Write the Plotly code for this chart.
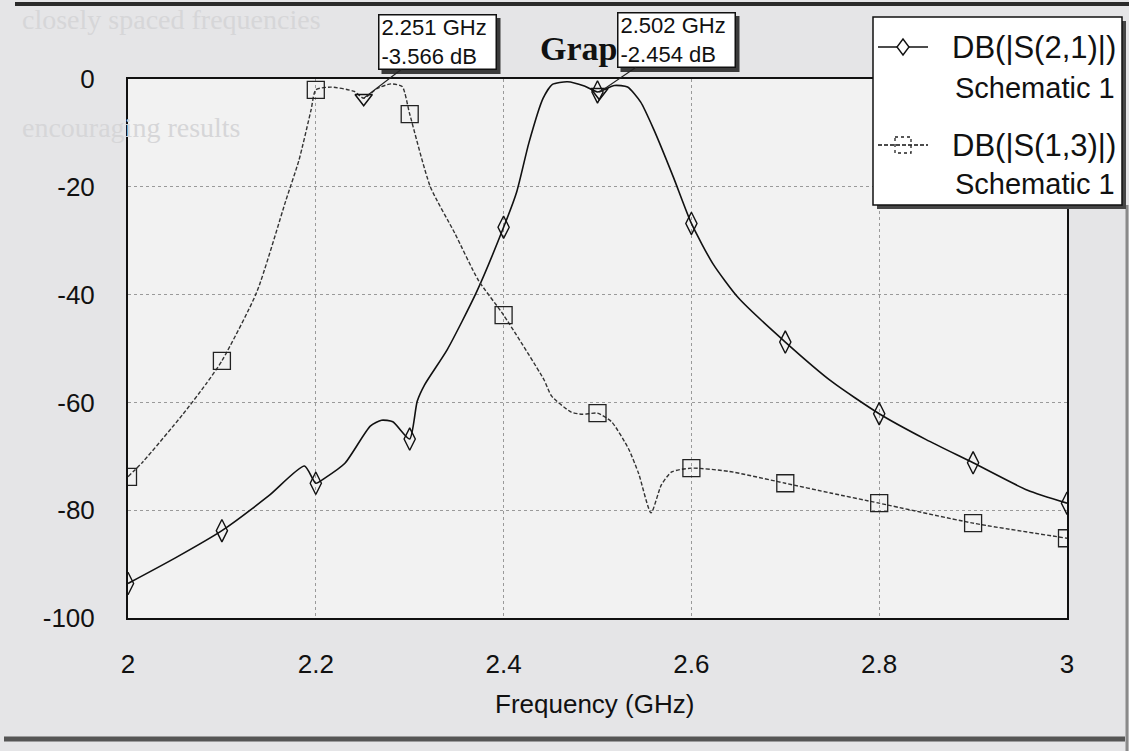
import plotly.graph_objects as go

# ---------------- data ----------------
S21_FREQ = [2.000, 2.050, 2.100, 2.150, 2.188, 2.200, 2.210, 2.231, 2.258, 2.270,
            2.282, 2.300, 2.308, 2.316, 2.340, 2.371, 2.400, 2.414, 2.427, 2.442,
            2.452, 2.468, 2.486, 2.500, 2.518, 2.532, 2.546, 2.560, 2.581, 2.600,
            2.623, 2.650, 2.700, 2.750, 2.800, 2.850, 2.900, 2.958, 3.000]
S21_DB = [-93.6, -88.9, -83.8, -77.3, -71.8, -75.0, -74.0, -71.3, -64.4, -63.3,
          -63.6, -66.8, -59.8, -56.7, -50.2, -39.6, -27.5, -20.9, -11.8, -3.6,
          -1.0, -0.5, -1.3, -2.4, -1.2, -1.5, -4.3, -9.4, -18.3, -26.8,
          -34.3, -40.6, -48.8, -56.2, -62.1, -66.9, -71.2, -76.3, -78.7]

S13_FREQ = [2.000, 2.016, 2.058, 2.083, 2.100, 2.137, 2.168, 2.182, 2.195, 2.200,
            2.216, 2.241, 2.251, 2.265, 2.280, 2.292, 2.300, 2.322, 2.348, 2.373,
            2.400, 2.443, 2.451, 2.472, 2.484, 2.500, 2.515, 2.533, 2.544, 2.557,
            2.568, 2.579, 2.600, 2.640, 2.700, 2.748, 2.800, 2.900, 3.000]
S13_DB = [-73.8, -71.0, -62.3, -56.6, -52.3, -39.6, -22.6, -15.1, -5.7, -2.0,
          -1.5, -2.3, -3.57, -1.8, -0.9, -1.4, -6.5, -20.0, -28.6, -37.3,
          -43.8, -55.8, -58.8, -61.8, -62.2, -62.0, -63.6, -68.6, -73.3, -80.5,
          -75.3, -72.9, -72.2, -72.8, -75.0, -76.8, -78.7, -82.4, -85.2]

SYMBOL_FREQS = [2.0, 2.1, 2.2, 2.3, 2.4, 2.5, 2.6, 2.7, 2.8, 2.9, 3.0]

MARKER_FREQ = [2.251, 2.502]
MARKER_DB = [-3.566, -2.454]
MARKER_TEXT = ["2.251 GHz<br>-3.566 dB", "2.502 GHz<br>-2.454 dB"]

X_TICKS = [2, 2.2, 2.4, 2.6, 2.8, 3]
X_TICK_LABELS = ["2", "2.2", "2.4", "2.6", "2.8", "3"]
Y_TICKS = [0, -20, -40, -60, -80, -100]
Y_TICK_LABELS = ["0", "-20", "-40", "-60", "-80", "-100"]

LEGEND_NAMES = ["DB(|S(2,1)|)", "DB(|S(1,3)|)"]
LEGEND_SUB = "Schematic 1"

# ---------------- layout geometry (pixels) ----------------
W, H = 1129, 751
PL, PR, PT, PB = 128, 1067, 79, 618
X0, X1 = 2.0, 3.0
Y0, Y1 = -100.0, 0.0


def px(x):
    return (x - PL) / (PR - PL)


def py(y):
    return (PB - y) / (PB - PT)


def dx(f):
    return PL + (f - X0) / (X1 - X0) * (PR - PL)


def dy(v):
    return PT + (Y1 - v) / (Y1 - Y0) * (PB - PT)


def pick(freqs, vals):
    xs, ys = [], []
    for f, v in zip(freqs, vals):
        if any(abs(f - s) < 1e-9 for s in SYMBOL_FREQS):
            xs.append(f)
            ys.append(v)
    return xs, ys


SANS = "Liberation Sans, Arial, sans-serif"
SERIF = "Liberation Serif, Times New Roman, serif"

fig = go.Figure()

# curves
fig.add_trace(go.Scatter(x=S21_FREQ, y=S21_DB, mode="lines",
                         line=dict(color="#111111", width=1.6, shape="spline", smoothing=0.6),
                         showlegend=False, hoverinfo="skip"))
fig.add_trace(go.Scatter(x=S13_FREQ, y=S13_DB, mode="lines",
                         line=dict(color="#333333", width=1.4, dash="4px,2px", shape="spline", smoothing=0.6),
                         showlegend=False, hoverinfo="skip"))

sx, sy = pick(S21_FREQ, S21_DB)
fig.add_trace(go.Scatter(x=sx, y=sy, mode="markers",
                         marker=dict(symbol="diamond-tall-open", size=16, color="#111111",
                                     line=dict(width=1.4, color="#111111")),
                         showlegend=False, hoverinfo="skip"))
qx, qy = pick(S13_FREQ, S13_DB)
fig.add_trace(go.Scatter(x=qx, y=qy, mode="markers",
                         marker=dict(symbol="square-open", size=17, color="#222222",
                                     line=dict(width=1.3, color="#222222")),
                         showlegend=False, hoverinfo="skip"))
fig.add_trace(go.Scatter(x=MARKER_FREQ, y=MARKER_DB, mode="markers",
                         marker=dict(symbol="triangle-down-open", size=15, color="#111111",
                                     line=dict(width=1.5, color="#111111")),
                         showlegend=False, hoverinfo="skip"))

shapes = []
annotations = []

# page rules (scan)
shapes.append(dict(type="line", xref="paper", yref="paper", x0=px(15), x1=px(1129), y0=py(4), y1=py(4),
                   line=dict(color="#2a2a2a", width=4), layer="above"))
shapes.append(dict(type="line", xref="paper", yref="paper", x0=px(4), x1=px(1125), y0=py(739), y1=py(739),
                   line=dict(color="#555555", width=5), layer="above"))
shapes.append(dict(type="line", xref="paper", yref="paper", x0=px(1127), x1=px(1127), y0=py(205), y1=py(751),
                   line=dict(color="#8a8a8a", width=3), layer="above"))

# faint text of the page behind the figure
ghost = [("closely spaced frequencies", 20, 20), ("encouraging results", 20, 127)]
for t, gx, gy in ghost:
    annotations.append(dict(text=t, xref="paper", yref="paper", x=px(gx), y=py(gy),
                            xanchor="left", yanchor="middle", showarrow=False,
                            font=dict(family=SERIF, size=28, color="#d6d6d8")))

# title (partly hidden by the second marker box)
annotations.append(dict(text="<b>Graph 1</b>", xref="paper", yref="paper", x=px(538), y=py(49),
                        xanchor="left", yanchor="middle", showarrow=False,
                        font=dict(family=SERIF, size=34, color="#111111")))

# axis title
annotations.append(dict(text="Frequency (GHz)", xref="paper", yref="paper", x=px(594), y=py(704),
                        xanchor="center", yanchor="middle", showarrow=False,
                        font=dict(family=SANS, size=26, color="#111111")))

# legend box
LX0, LX1, LY0, LY1 = 873, 1122, 17, 205
shapes.append(dict(type="rect", xref="paper", yref="paper", x0=px(LX0 + 4), x1=px(LX1 + 4),
                   y0=py(LY0 + 4), y1=py(LY1 + 4), fillcolor="#454545", line=dict(width=0), layer="above"))
shapes.append(dict(type="rect", xref="paper", yref="paper", x0=px(LX0), x1=px(LX1),
                   y0=py(LY0), y1=py(LY1), fillcolor="white", line=dict(color="#111111", width=1.5),
                   layer="above"))
entry_y = [47, 145]
sub_y = [88, 184]
for i, name in enumerate(LEGEND_NAMES):
    ly = entry_y[i]
    shapes.append(dict(type="line", xref="paper", yref="paper", x0=px(878), x1=px(928),
                       y0=py(ly), y1=py(ly),
                       line=dict(color="#111111", width=1.5, dash="solid" if i == 0 else "4px,2px"),
                       layer="above"))
    cx = 903
    if i == 0:
        path = "M {a},{b} L {c},{d} L {a},{e} L {f},{d} Z".format(
            a=px(cx), b=py(ly - 8), c=px(cx + 6), d=py(ly), e=py(ly + 8), f=px(cx - 6))
        shapes.append(dict(type="path", xref="paper", yref="paper", path=path, fillcolor="white",
                           line=dict(color="#111111", width=1.4), layer="above"))
    else:
        shapes.append(dict(type="rect", xref="paper", yref="paper", x0=px(cx - 8), x1=px(cx + 8),
                           y0=py(ly - 8), y1=py(ly + 8), fillcolor="rgba(0,0,0,0)",
                           line=dict(color="#222222", width=1.3, dash="dot"), layer="above"))
    annotations.append(dict(text=name, xref="paper", yref="paper", x=px(1118), y=py(ly),
                            xanchor="right", yanchor="middle", showarrow=False,
                            font=dict(family=SANS, size=31, color="#111111")))
    annotations.append(dict(text=LEGEND_SUB, xref="paper", yref="paper", x=px(1117), y=py(sub_y[i]),
                            xanchor="right", yanchor="middle", showarrow=False,
                            font=dict(family=SANS, size=29, color="#111111")))

# marker boxes with leader lines
BOX_CENTERS = [(437, 42), (676, 40)]
BOX_W, BOX_H = 119, 56
for (bx, by), f, v, t in zip(BOX_CENTERS, MARKER_FREQ, MARKER_DB, MARKER_TEXT):
    shapes.append(dict(type="rect", xref="paper", yref="paper",
                       x0=px(bx - BOX_W / 2 + 4), x1=px(bx + BOX_W / 2 + 4),
                       y0=py(by - BOX_H / 2 + 4), y1=py(by + BOX_H / 2 + 4),
                       fillcolor="#3a3a3a", line=dict(width=0), layer="above"))
    ax = bx - dx(f)
    ay = by - dy(v)
    annotations.append(dict(text=t, x=f, y=v, xref="x", yref="y", showarrow=True,
                            ax=ax, ay=ay, axref="pixel", ayref="pixel",
                            arrowhead=0, arrowwidth=1.1, arrowcolor="#222222", standoff=0,
                            width=112, height=49, borderpad=2,
                            bgcolor="white", bordercolor="#111111", borderwidth=1.5,
                            font=dict(family=SANS, size=22, color="#111111"), align="left"))

fig.update_layout(
    width=W, height=H,
    margin=dict(l=PL, r=W - PR, t=PT, b=H - PB, pad=0),
    paper_bgcolor="#e5e5e7",
    plot_bgcolor="#f2f2f2",
    showlegend=False,
    shapes=shapes,
    annotations=annotations,
    xaxis=dict(range=[X0, X1], tickvals=X_TICKS, ticktext=X_TICK_LABELS,
               showline=True, mirror=True, linecolor="#111111", linewidth=2,
               showgrid=True, gridcolor="#9a9a9a", griddash="dot", gridwidth=1,
               zeroline=False, ticks="", ticklabelstandoff=22,
               tickfont=dict(family=SANS, size=26, color="#111111")),
    yaxis=dict(range=[Y0, Y1], tickvals=Y_TICKS, ticktext=Y_TICK_LABELS,
               showline=True, mirror=True, linecolor="#111111", linewidth=2,
               showgrid=True, gridcolor="#9a9a9a", griddash="dot", gridwidth=1,
               zeroline=False, ticks="", ticklabelstandoff=26,
               tickfont=dict(family=SANS, size=26, color="#111111")),
)

fig.write_html("out.html")
